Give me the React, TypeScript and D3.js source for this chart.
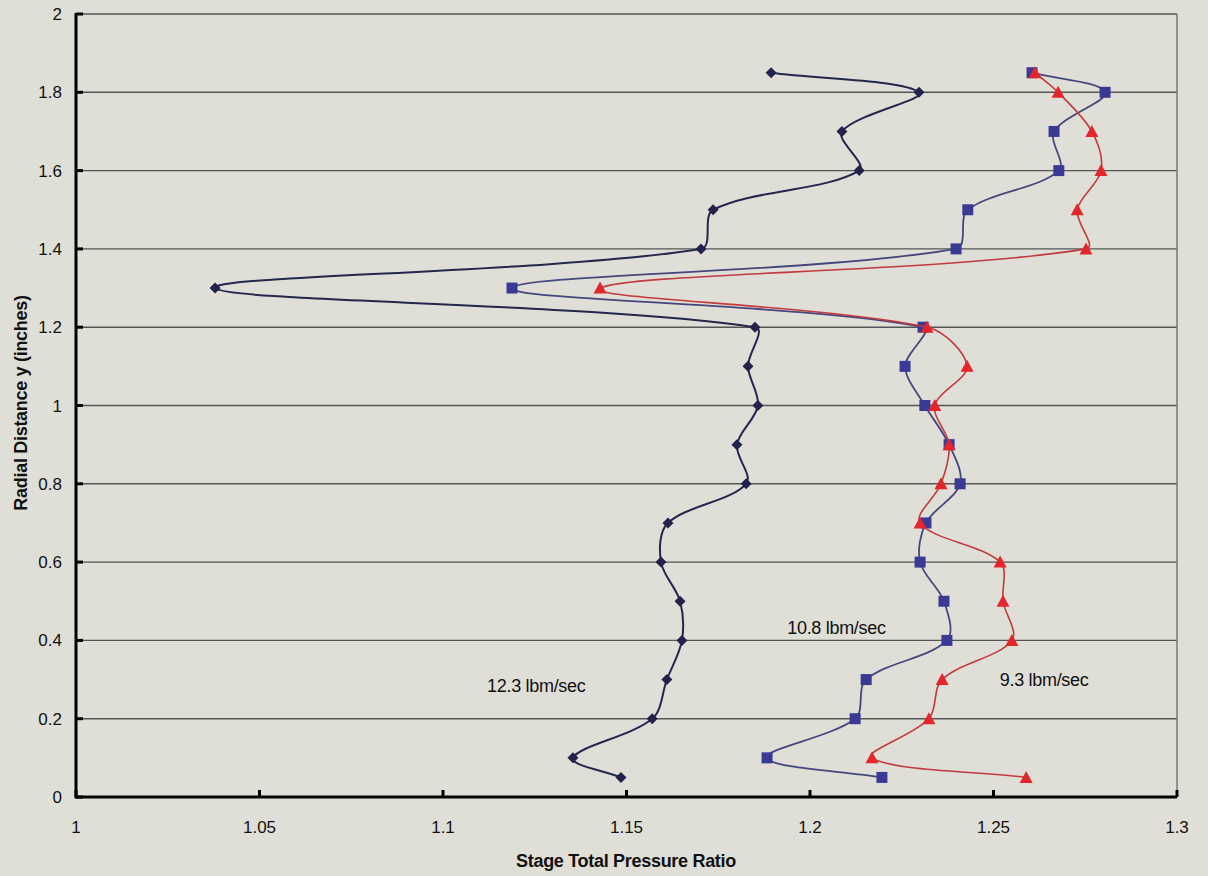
import React from "react";
import * as d3 from "d3";

const radialY = [1.85, 1.8, 1.7, 1.6, 1.5, 1.4, 1.3, 1.2, 1.1, 1.0, 0.9, 0.8, 0.7, 0.6, 0.5, 0.4, 0.3, 0.2, 0.1, 0.05];
const ratio123 = [1.1894, 1.2297, 1.2087, 1.2134, 1.1736, 1.1703, 1.0379, 1.185, 1.1831, 1.1858, 1.1801, 1.1826, 1.1613, 1.1594, 1.1646, 1.1651, 1.161, 1.157, 1.1354, 1.1485];
const ratio108 = [1.2605, 1.2804, 1.2665, 1.2678, 1.243, 1.2398, 1.1188, 1.2308, 1.2259, 1.2313, 1.2379, 1.2409, 1.2316, 1.23, 1.2365, 1.2373, 1.2153, 1.2123, 1.1883, 1.2196];
const ratio93 = [1.2613, 1.2676, 1.2768, 1.2793, 1.2728, 1.2752, 1.1428, 1.2319, 1.2428, 1.234, 1.2379, 1.2357, 1.23, 1.2518, 1.2526, 1.255, 1.236, 1.2324, 1.2169, 1.2589];
const xTicks = [1, 1.05, 1.1, 1.15, 1.2, 1.25, 1.3];
const yTicks = [0, 0.2, 0.4, 0.6, 0.8, 1, 1.2, 1.4, 1.6, 1.8, 2];
const seriesLabels = ["12.3 lbm/sec", "10.8 lbm/sec", "9.3 lbm/sec"];
const labelPos = [[1.1120, 0.269], [1.1938, 0.417], [1.2517, 0.283]];

const W = 1208, H = 876;
const left = 76, right = 1177, top = 14, bottom = 797;

// Smoothed curve (Excel-like): tangent split according to neighbouring segment lengths
function excelSmooth(context: any) {
  let pts: [number, number][] = [];
  return {
    areaStart() {},
    areaEnd() {},
    lineStart() { pts = []; },
    point(px: number, py: number) { pts.push([+px, +py]); },
    lineEnd() {
      const n = pts.length;
      if (!n) return;
      context.moveTo(pts[0][0], pts[0][1]);
      const dist = (a: [number, number], b: [number, number]) => Math.hypot(b[0] - a[0], b[1] - a[1]);
      const cin: [number, number][] = [], cout: [number, number][] = [];
      for (let i = 0; i < n; i++) {
        const p = pts[i];
        if (i === 0 || i === n - 1) {
          const q = i === 0 ? pts[1] : pts[n - 2];
          const c: [number, number] = [p[0] + (q[0] - p[0]) / 3, p[1] + (q[1] - p[1]) / 3];
          cin.push(c); cout.push(c);
          continue;
        }
        const a = pts[i - 1], b = pts[i + 1];
        const tx = b[0] - a[0], ty = b[1] - a[1];
        const dp = dist(a, p), dn = dist(p, b);
        const s = dp + dn || 1;
        const kIn = dp / s / 3, kOut = dn / s / 3;
        cin.push([p[0] - tx * kIn, p[1] - ty * kIn]);
        cout.push([p[0] + tx * kOut, p[1] + ty * kOut]);
      }
      for (let i = 0; i < n - 1; i++) {
        const c1 = cout[i];
        const c2 = cin[i + 1];
        context.bezierCurveTo(c1[0], c1[1], c2[0], c2[1], pts[i + 1][0], pts[i + 1][1]);
      }
    },
  };
}

export default function App() {
  const x = d3.scaleLinear().domain([1, 1.3]).range([left, right]);
  const y = d3.scaleLinear().domain([0, 2]).range([bottom, top]);
  const line = d3.line<[number, number]>()
    .x(d => x(d[0])).y(d => y(d[1]))
    .curve(excelSmooth as any);
  const series = [
    { vals: ratio123, line: "#26264d", fill: "#22224a", shape: "diamond", w: 2 },
    { vals: ratio108, line: "#46467c", fill: "#3a3a94", shape: "square", w: 1.8 },
    { vals: ratio93, line: "#c23a3e", fill: "#e3262c", shape: "triangle", w: 1.6 },
  ];
  const fmt = (v: number) => String(+v.toFixed(2));
  const font = "'Liberation Sans', Arial, sans-serif";
  return (
    <svg width={W} height={H} style={{ position: "absolute", left: 0, top: 0, background: "#dfdfd7" }}>
      <rect x={0} y={0} width={W} height={H} fill="#dfdfd7" />
      {yTicks.filter(t => t > 0).map(t => (
        <line key={"g" + t} x1={left} x2={right} y1={y(t)} y2={y(t)} stroke="#555" strokeWidth={1.4} />
      ))}
      <line x1={right} x2={right} y1={top} y2={bottom} stroke="#777" strokeWidth={1.5} />
      {series.map((s, i) => {
        const pts: [number, number][] = s.vals.map((v, j) => [v, radialY[j]]);
        return (
          <g key={i}>
            <path d={line(pts) || ""} fill="none" stroke={s.line} strokeWidth={s.w} />
            {pts.map((p, j) => {
              const cx = x(p[0]), cy = y(p[1]);
              if (s.shape === "diamond") {
                const r = 5.5;
                return <path key={j} d={`M${cx},${cy - r}L${cx + r},${cy}L${cx},${cy + r}L${cx - r},${cy}Z`} fill={s.fill} />;
              }
              if (s.shape === "square") {
                return <rect key={j} x={cx - 5.5} y={cy - 5.5} width={11} height={11} fill={s.fill} />;
              }
              return <path key={j} d={`M${cx},${cy - 6.5}L${cx + 6.5},${cy + 5.5}L${cx - 6.5},${cy + 5.5}Z`} fill={s.fill} />;
            })}
          </g>
        );
      })}
      <line x1={left} x2={right} y1={bottom} y2={bottom} stroke="#000" strokeWidth={3} />
      <line x1={left} x2={left} y1={top - 1} y2={bottom + 1.5} stroke="#000" strokeWidth={3} />
      {xTicks.map(t => (
        <g key={"x" + t}>
          <line x1={x(t)} x2={x(t)} y1={bottom} y2={bottom - 7} stroke="#000" strokeWidth={3} />
          <text x={x(t)} y={833} textAnchor="middle" fontFamily={font} fontSize={17} fill="#111">{fmt(t)}</text>
        </g>
      ))}
      {yTicks.map(t => (
        <g key={"y" + t}>
          <line x1={left} x2={left + 7} y1={y(t)} y2={y(t)} stroke="#000" strokeWidth={3} />
          <text x={62} y={y(t) + 6} textAnchor="end" fontFamily={font} fontSize={17} fill="#111">{fmt(t)}</text>
        </g>
      ))}
      <text x={626} y={867} textAnchor="middle" fontFamily={font} fontSize={18} fontWeight="bold" fill="#111" letterSpacing={-0.3}>Stage Total Pressure Ratio</text>
      <text transform={`translate(27,${403}) rotate(-90)`} textAnchor="middle" fontFamily={font} fontSize={18} fontWeight="bold" fill="#111" letterSpacing={-0.3}>Radial Distance y (inches)</text>
      {seriesLabels.map((l, i) => (
        <text key={l} x={x(labelPos[i][0])} y={y(labelPos[i][1])} fontFamily={font} fontSize={18} fill="#111" letterSpacing={-0.3}>{l}</text>
      ))}
    </svg>
  );
}
